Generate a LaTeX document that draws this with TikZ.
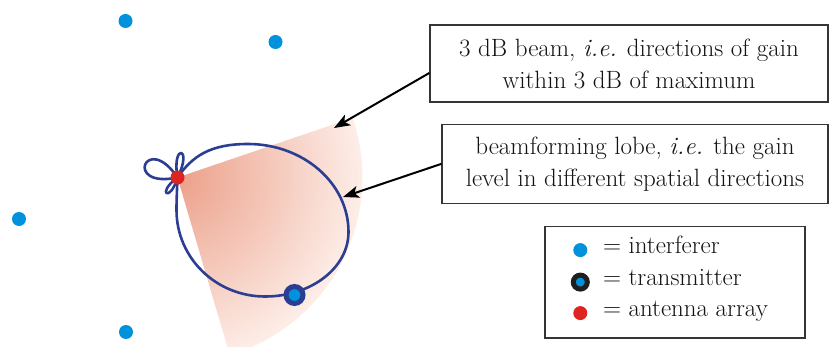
\documentclass[tikz,border=0pt]{standalone}
\usepackage{tikz}
\usetikzlibrary{positioning,arrows.meta,calc}
\definecolor{ifblue}{RGB}{0,146,221}
\definecolor{antred}{RGB}{221,36,33}
\definecolor{lobeblue}{RGB}{43,62,145}
\definecolor{beamin}{RGB}{236,160,138}
\definecolor{beamout}{RGB}{253,238,232}
\definecolor{boxgray}{RGB}{55,52,52}
\definecolor{txt}{RGB}{20,18,18}

\begin{document}
\begin{tikzpicture}[x=1pt, y=1pt, >={Stealth[length=16pt,width=12pt,inset=4pt]},
  font=\fontsize{25}{32}\selectfont, text=txt,
  note/.style={draw=boxgray, line width=1.4pt, inner sep=0pt, align=center},
  dot/.style={circle, fill=ifblue, inner sep=0pt, minimum size=14pt},
  ring/.style={circle, fill=ifblue, draw=#1, line width=5pt, inner sep=0pt, minimum size=15pt},
  lobeline/.style={draw=lobeblue, line width=2.6pt, line join=round},
  keytext/.style={inner sep=0pt, text height=1.6ex, text depth=0.25ex, anchor=west}]
  \useasboundingbox (0,0) rectangle (829,-347);

  % 3 dB beam, shaded from the array outwards
  \coordinate (ant) at (177.5,-177.5);
  \begin{scope}
    \clip (ant) -- ++(18.8:185) arc[start angle=18.8, end angle=-73.6, radius=185] -- cycle;
    \shade[inner color=beamin, outer color=beamout] (ant) circle[radius=185];
  \end{scope}

  % main lobe: top, right, bottom and left extremes
  \coordinate (ltop) at (248,-144);
  \coordinate (lright) at (348.5,-232);
  \coordinate (lbot) at (265,-296.5);
  \coordinate (lleft) at (176.5,-210);
  \draw[lobeline] (ant) .. controls +(55:26) and +(180:38) .. (ltop)
    .. controls +(0:55) and +(90:49) .. (lright)
    .. controls +(-90:36) and +(0:46) .. (lbot)
    .. controls +(180:49) and +(-90:48) .. (lleft)
    .. controls +(90:12) and +(-92:12) .. (ant);
  % side lobes
  \draw[lobeline] (ant) .. controls +(124:56) and +(192:56) .. (ant);
  \draw[lobeline] (ant) .. controls +(63:35) and +(100:35) .. (ant);
  \draw[lobeline] (ant) .. controls +(216:27) and +(254:27) .. (ant);

  \node[dot, fill=antred] (array) at (ant) {};
  \node[ring=lobeblue, minimum size=17pt] (tx) at (294.5,-295) {};

  % interferers
  \node[dot] (if1) at (125.5,-21) {};
  \node[dot] (if2) at (275.5,-42) {};
  \node[dot] (if3) at (19,-219) {};
  \node[dot] (if4) at (126,-332) {};

  % labels
  \node[note, minimum width=398pt, minimum height=77pt] (beam) at (629,-63.5)
    {3 dB beam, \textit{i.e.} directions of gain\\within 3 dB of maximum};
  \node[note, minimum width=386pt, minimum height=79pt, anchor=north east] (lobe)
    at ([yshift=-21pt]beam.south east)
    {beamforming lobe, \textit{i.e.} the gain\\level in different spatial directions};
  \coordinate (beamtip) at (334,-128);
  \coordinate (lobetip) at (343,-197);
  \draw[->, line width=2pt] ([yshift=-9.5pt]beam.west) -- (beamtip);
  \draw[->, line width=2pt] (lobe.west) -- (lobetip);

  % legend
  \node[note, minimum width=260pt, minimum height=111pt, anchor=north east] (key)
    at ([xshift=-23pt,yshift=-22pt]lobe.south east) {};
  \node[dot] (kif) at ([xshift=36pt,yshift=-24pt]key.north west) {};
  \node[ring=black!88, minimum size=14pt] (ktx) at ([yshift=-32pt]kif.center) {};
  \node[dot, fill=antred] (kant) at ([yshift=-31pt]ktx.center) {};
  \node[keytext, right=22.5pt of kif.center] (kiftext) {= interferer};
  \node[keytext, right=22.5pt of ktx.center] (ktxtext) {= transmitter};
  \node[keytext, right=22.5pt of kant.center] (kanttext) {= antenna array};
\end{tikzpicture}
\end{document}
